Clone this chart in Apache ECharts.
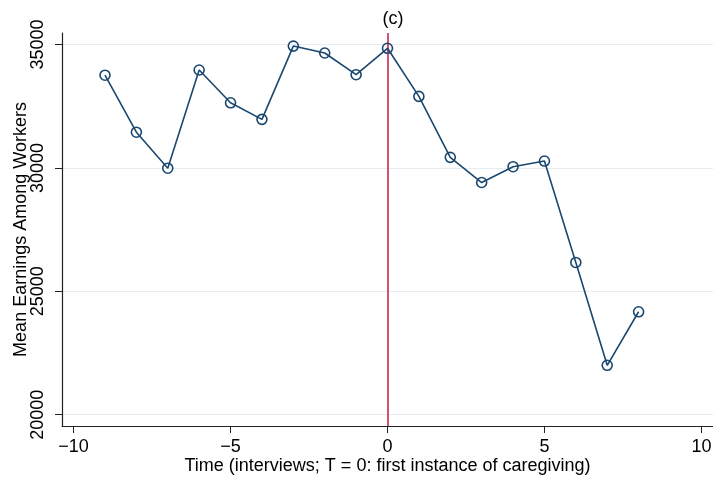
<!DOCTYPE html>
<html>
<head>
<meta charset="utf-8">
<script src="https://cdn.jsdelivr.net/npm/echarts@6/dist/echarts.min.js"></script>
<style>
	html, body { margin: 0; padding: 0; background: #fff; overflow: hidden; }
	#chart { width: 713px; height: 479px; }
</style>
</head>
<body>
<div id="chart"></div>
<script>
	// 时间（访谈期，T=0 为首次照护）
	const times = [-9, -8, -7, -6, -5, -4, -3, -2, -1, 0, 1, 2, 3, 4, 5, 6, 7, 8];
	// 平均收入
	const earnings = [33760, 31450, 29990, 33970, 32640, 31970, 34940, 34660, 33780,
		34850, 32900, 30430, 29410, 30050, 30280, 26170, 22000, 24170];
	const xTicks = [-10, -5, 0, 5, 10];
	const yTicks = [20000, 25000, 30000, 35000];
	const eventTime = 0;

	const navy = "#1a476f";
	const fontFamily = "'Liberation Sans', Arial, sans-serif";

	let myChart = echarts.init(document.getElementById("chart"));
	let option = {
		animation: false,
		title: {
			text: "(c)",
			left: 388,
			textAlign: "center",
			top: 5,
			textStyle: { fontFamily, fontSize: 18, fontWeight: "normal", color: "#000" },
		},
		grid: { left: 62, right: 0, top: 33, bottom: 53, outerBoundsMode: "none" },
		xAxis: {
			type: "value",
			min: -10.37,
			max: 10.37,
			name: "Time (interviews; T = 0: first instance of caregiving)",
			nameLocation: "middle",
			nameGap: 31,
			nameMoveOverlap: false,
			nameTextStyle: { fontFamily, fontSize: 18, color: "#000" },
			axisLine: { show: true, onZero: false, lineStyle: { color: "#222", width: 1.2 } },
			axisTick: { show: true, length: 7, customValues: xTicks, lineStyle: { color: "#222" } },
			axisLabel: {
				customValues: xTicks,
				fontFamily, fontSize: 18, color: "#000", margin: 12,
				formatter: v => String(v).replace("-", "\u2212"),
			},
			splitLine: { show: false },
		},
		yAxis: {
			type: "value",
			min: 19540,
			max: 35470,
			name: "Mean Earnings Among Workers",
			nameLocation: "middle",
			nameGap: 32,
			nameMoveOverlap: false,
			nameTextStyle: { fontFamily, fontSize: 18, color: "#000" },
			axisLine: { show: true, onZero: false, lineStyle: { color: "#222", width: 1.2 } },
			axisTick: { show: true, length: 7, customValues: yTicks, lineStyle: { color: "#222" } },
			axisLabel: {
				customValues: yTicks,
				rotate: 90,
				fontFamily, fontSize: 18, color: "#000", margin: 15,
				formatter: v => String(v),
			},
			splitLine: { show: true, lineStyle: { color: "#e6edf1", width: 1.2 } },
		},
		series: [{
			type: "line",
			data: times.map((t, i) => [t, earnings[i]]),
			symbol: "circle",
			symbolSize: 10,
			itemStyle: { color: "rgba(255,255,255,0)", borderColor: navy, borderWidth: 1.6 },
			lineStyle: { color: navy, width: 1.6 },
			z: 3,
			markLine: {
				silent: true,
				symbol: "none",
				label: { show: false },
				lineStyle: { color: "#c8284f", type: "solid", width: 1.6 },
				data: [{ xAxis: eventTime }],
				z: 2,
			},
		}],
	};
	myChart.setOption(option);
</script>
</body>
</html>
